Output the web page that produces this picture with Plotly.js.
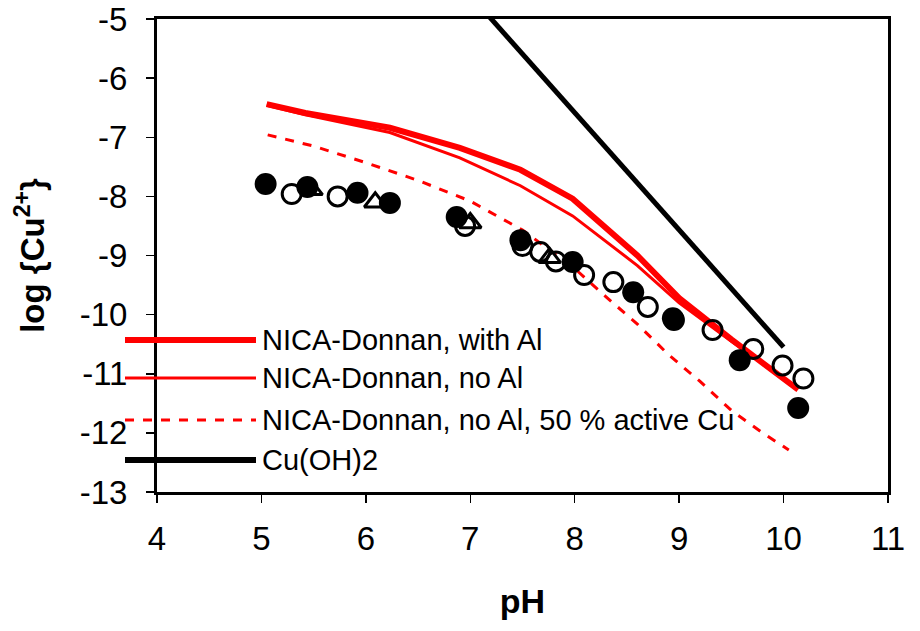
<!DOCTYPE html>
<html>
<head>
<meta charset="utf-8">
<script src="https://cdn.plot.ly/plotly-3.0.1.min.js"></script>
<style>html,body{margin:0;padding:0;background:#fff;}#chart{width:920px;height:631px;}</style>
</head>
<body>
<div id="chart"></div>
<script>
// ---- data ----
const withAlPH   = [5.05, 5.42, 6.23, 6.90, 7.48, 7.98, 8.60, 9.00, 9.50, 10.14];
const withAlLog  = [-6.44, -6.59, -6.84, -7.18, -7.55, -8.04, -9.00, -9.72, -10.42, -11.27];
const noAlPH     = [5.05, 5.42, 6.23, 6.90, 7.48, 7.98, 8.60, 9.00, 9.50, 10.14];
const noAlLog    = [-6.46, -6.62, -6.92, -7.35, -7.82, -8.33, -9.17, -9.80, -10.45, -11.25];
const halfPH     = [5.06, 5.50, 6.00, 6.50, 7.00, 7.50, 8.00, 8.30, 8.60, 8.90, 9.20, 9.50, 9.80, 10.05];
const halfLog    = [-6.96, -7.15, -7.43, -7.73, -8.08, -8.57, -9.22, -9.70, -10.16, -10.68, -11.13, -11.62, -12.00, -12.29];
const cuohPH     = [7.0, 10.0];
const cuohLog    = [-4.6, -10.55];
const filledPH   = [5.04, 5.44, 5.92, 6.23, 6.87, 7.48, 7.98, 8.56, 8.94, 9.58, 10.14];
const filledLog  = [-7.79, -7.84, -7.94, -8.11, -8.35, -8.74, -9.11, -9.62, -10.06, -10.77, -11.58];
const openPH     = [5.29, 5.73, 6.95, 7.50, 7.67, 7.82, 8.09, 8.37, 8.70, 8.95, 9.32, 9.71, 9.99, 10.19];
const openLog    = [-7.96, -8.00, -8.50, -8.84, -8.94, -9.10, -9.33, -9.45, -9.87, -10.09, -10.26, -10.58, -10.86, -11.08];
const triPH      = [5.48, 6.09, 7.00, 7.76];
const triLog     = [-7.89, -8.10, -8.45, -9.04];
const xTicks     = [4, 5, 6, 7, 8, 9, 10, 11];
const yTicks     = [-13, -12, -11, -10, -9, -8, -7, -6, -5];
const yTickText  = ['-13', '-12', '-11', '-10', '-9', '-8', '-7', '-6', '-5'];
const legendNames = ['NICA-Donnan, with Al', 'NICA-Donnan, no Al', 'NICA-Donnan, no Al, 50 % active Cu', 'Cu(OH)2'];

const RED = '#ff0000';
const FONT = 'Arial, "Liberation Sans", sans-serif';
const NARROW = '"Liberation Sans Narrow", "Arial Narrow", Arial, sans-serif';

const traces = [
  {x: halfPH, y: halfLog, mode: 'lines', line: {color: RED, width: 3, dash: 'dash'}, name: legendNames[2], showlegend: false},
  {x: noAlPH, y: noAlLog, mode: 'lines', line: {color: RED, width: 3}, name: legendNames[1], showlegend: false},
  {x: withAlPH, y: withAlLog, mode: 'lines', line: {color: RED, width: 6}, name: legendNames[0], showlegend: false},
  {x: cuohPH, y: cuohLog, mode: 'lines', line: {color: '#000', width: 5}, name: legendNames[3], showlegend: false},
  {x: openPH, y: openLog, mode: 'markers', marker: {symbol: 'circle-open', size: 19, color: '#000', line: {width: 3, color: '#000'}}, showlegend: false},
  {x: triPH, y: triLog, mode: 'markers', marker: {symbol: 'triangle-up-open', size: 19, color: '#000', line: {width: 3, color: '#000'}}, showlegend: false},
  {x: filledPH, y: filledLog, mode: 'markers', marker: {symbol: 'circle', size: 22, color: '#000', line: {width: 0}}, showlegend: false}
];

// custom legend (long sample lines, as in the original)
const L = 157, R = 888, T = 19, B = 492;
const px = v => (v - L) / (R - L);
const py = v => (B - v) / (B - T);
const rows = [340, 378, 420, 460];
const legStyles = [
  {color: RED, width: 6, dash: 'solid'},
  {color: RED, width: 3, dash: 'solid'},
  {color: RED, width: 3, dash: 'dash'},
  {color: '#000', width: 6, dash: 'solid'}
];
const shapes = [], annotations = [];
rows.forEach((r, i) => {
  shapes.push({type: 'line', xref: 'paper', yref: 'paper', x0: px(125), x1: px(256), y0: py(r), y1: py(r), line: legStyles[i], layer: 'above'});
  annotations.push({xref: 'paper', yref: 'paper', x: px(260), y: py(r), xanchor: 'left', yanchor: 'middle', showarrow: false,
    text: legendNames[i], font: {family: FONT, size: 29, color: '#000'}});
});

const layout = {
  width: 920, height: 631,
  margin: {l: L, r: 920 - R, t: T, b: 631 - B},
  paper_bgcolor: '#fff', plot_bgcolor: '#fff',
  showlegend: false,
  font: {family: FONT, color: '#000'},
  xaxis: {
    range: [4, 11], tickvals: xTicks, ticktext: xTicks.map(String),
    showgrid: false, zeroline: false, showline: true, linecolor: '#000', linewidth: 3, mirror: true,
    ticks: 'outside', ticklen: 8, tickwidth: 1.5, tickcolor: '#000',
    tickfont: {family: NARROW, size: 33}, ticklabelstandoff: 7,
    title: {text: '<b>pH</b>', font: {family: FONT, size: 34}, standoff: 34}
  },
  yaxis: {
    range: [-13, -5], tickvals: yTicks, ticktext: yTickText,
    showgrid: false, zeroline: false, showline: true, linecolor: '#000', linewidth: 3, mirror: true,
    ticks: 'outside', ticklen: 8, tickwidth: 1.5, tickcolor: '#000',
    tickfont: {family: NARROW, size: 33}, ticklabelstandoff: 12,
    title: {text: '<b>log {Cu<sup>2+</sup>}</b>', font: {family: FONT, size: 33}, standoff: 26}
  },
  shapes: shapes,
  annotations: annotations
};

Plotly.newPlot('chart', traces, layout, {displayModeBar: false, staticPlot: true});
</script>
</body>
</html>
